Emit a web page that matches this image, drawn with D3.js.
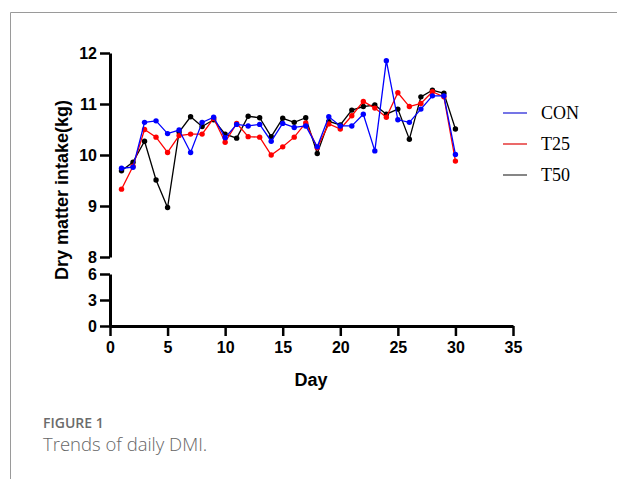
<!DOCTYPE html>
<html>
<head>
<meta charset="utf-8">
<script src="https://cdn.jsdelivr.net/npm/d3@7"></script>
<style>
  body { margin: 0; background: #fff; }
  svg { display: block; }
</style>
</head>
<body>
<div></div>
<script>
const days = d3.range(1, 31);
const conValues = [9.74, 9.76, 10.64, 10.67, 10.42, 10.49, 10.05, 10.64, 10.74, 10.34,
                   10.60, 10.57, 10.60, 10.27, 10.62, 10.54, 10.57, 10.16, 10.75, 10.57,
                   10.57, 10.80, 10.08, 11.85, 10.69, 10.64, 10.90, 11.16, 11.16, 10.01];
const t25Values = [9.33, 9.78, 10.50, 10.35, 10.05, 10.38, 10.41, 10.41, 10.72, 10.25,
                   10.62, 10.36, 10.35, 10.00, 10.16, 10.35, 10.63, 10.14, 10.61, 10.51,
                   10.77, 11.05, 10.92, 10.74, 11.22, 10.95, 11.01, 11.24, 11.14, 9.88];
const t50Values = [9.69, 9.86, 10.27, 9.51, 8.97, 10.45, 10.75, 10.56, 10.69, 10.41,
                   10.33, 10.76, 10.73, 10.36, 10.72, 10.64, 10.73, 10.03, 10.66, 10.59,
                   10.88, 10.95, 10.98, 10.80, 10.90, 10.31, 11.14, 11.27, 11.21, 10.51];
const seriesNames = ['CON', 'T25', 'T50'];
const seriesColors = ['#0000ff', '#ff0000', '#000000'];
const legendColors = ['#2b2bd9', '#e01818', '#444444'];
const xTicks = [0, 5, 10, 15, 20, 25, 30, 35];
const yTicksTop = [8, 9, 10, 11, 12];
const yTicksBottom = [0, 3, 6];

const width = 617, height = 479;

const svg = d3.select('body').select('div')
    .append('svg')
    .attr('width', width)
    .attr('height', height);

// figure frame
svg.append('path')
    .attr('d', `M10.5,${height} V12.5 H${width}`)
    .attr('fill', 'none')
    .attr('stroke', '#9a9a9a')
    .attr('stroke-width', 1);

const xScale = d3.scaleLinear().domain([0, 35]).range([110, 513]);
const yTop = d3.scaleLinear().domain([8, 12]).range([257, 53]);
const yBottom = d3.scaleLinear().domain([0, 6]).range([326, 274]);

const axisFont = '"Liberation Sans", Arial, sans-serif';
const fmt = d3.format('d');

function styleAxis(g) {
    g.select('.domain').attr('stroke-width', 3).attr('stroke', '#000');
    g.selectAll('.tick line').attr('stroke-width', 2.5).attr('stroke', '#000');
    g.selectAll('.tick text')
        .attr('font-family', axisFont)
        .attr('font-weight', 'bold')
        .attr('font-size', 16)
        .attr('fill', '#000');
}

svg.append('g')
    .attr('transform', 'translate(110,0)')
    .call(d3.axisLeft(yTop).tickValues(yTicksTop).tickFormat(fmt).tickSize(10).tickSizeOuter(0).tickPadding(3))
    .call(styleAxis);

svg.append('g')
    .attr('transform', 'translate(110,0)')
    .call(d3.axisLeft(yBottom).tickValues(yTicksBottom).tickFormat(fmt).tickSize(10).tickSizeOuter(0).tickPadding(3))
    .call(styleAxis);

svg.append('g')
    .attr('transform', 'translate(0,326)')
    .call(d3.axisBottom(xScale).tickValues(xTicks).tickFormat(fmt).tickSize(10).tickSizeOuter(0).tickPadding(6))
    .call(styleAxis);

// axis titles
svg.append('text')
    .attr('transform', 'translate(68,190) rotate(-90)')
    .attr('text-anchor', 'middle')
    .attr('font-family', axisFont)
    .attr('font-weight', 'bold')
    .attr('font-size', 18)
    .text('Dry matter intake(kg)');

svg.append('text')
    .attr('x', 311)
    .attr('y', 386)
    .attr('text-anchor', 'middle')
    .attr('font-family', axisFont)
    .attr('font-weight', 'bold')
    .attr('font-size', 18)
    .text('Day');

// series
const allSeries = [conValues, t25Values, t50Values];
const line = d3.line().x((d, i) => xScale(days[i])).y(d => yTop(d));

// draw T50 first so blue sits on top
[2, 1, 0].forEach(s => {
    const vals = allSeries[s];
    svg.append('path')
        .datum(vals)
        .attr('d', line)
        .attr('fill', 'none')
        .attr('stroke', seriesColors[s])
        .attr('stroke-width', 1.3);
    svg.append('g')
        .selectAll('circle')
        .data(vals)
        .enter()
        .append('circle')
        .attr('cx', (d, i) => xScale(days[i]))
        .attr('cy', d => yTop(d))
        .attr('r', 2.7)
        .attr('fill', seriesColors[s]);
});

// legend
const legend = svg.append('g').attr('id', 'legend');
seriesNames.forEach((name, i) => {
    const y = 113 + i * 31;
    legend.append('line')
        .attr('x1', 503).attr('x2', 527)
        .attr('y1', y).attr('y2', y)
        .attr('stroke', legendColors[i])
        .attr('stroke-width', 1.3);
    legend.append('text')
        .attr('x', 541)
        .attr('y', y + 6)
        .attr('font-family', '"Liberation Serif", "Times New Roman", serif')
        .attr('font-size', 18)
        .text(name);
});

// caption
svg.append('text')
    .attr('x', 43)
    .attr('y', 428)
    .attr('font-family', '"Open Sans", sans-serif')
    .attr('font-weight', 600)
    .attr('font-size', 14)
    .attr('fill', '#6b6b6b')
    .text('FIGURE 1');

svg.append('text')
    .attr('x', 43)
    .attr('y', 451)
    .attr('font-family', '"Open Sans", sans-serif')
    .attr('font-weight', 300)
    .attr('font-size', 18.5)
    .attr('fill', '#666')
    .text('Trends of daily DMI.');
</script>
</body>
</html>
